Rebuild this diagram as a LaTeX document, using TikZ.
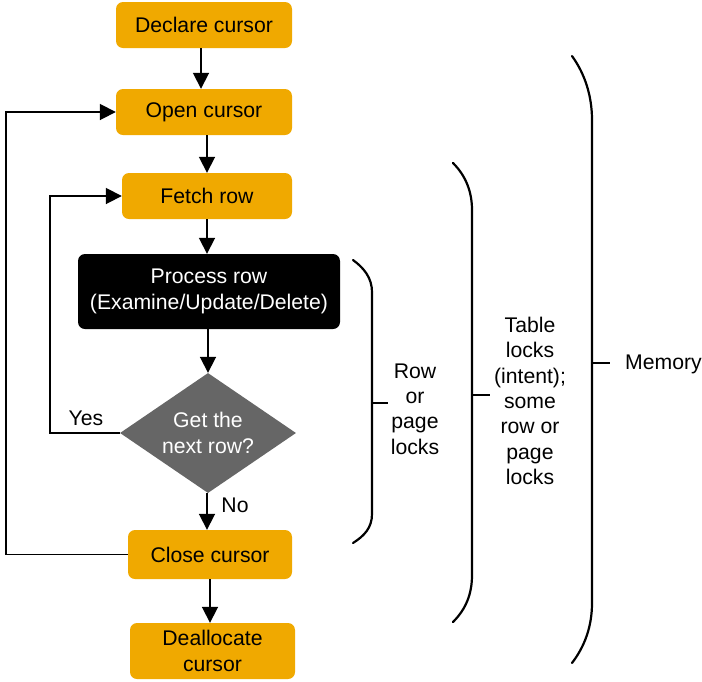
\documentclass[tikz,border=0pt]{standalone}
\usepackage{fontspec}
\setmainfont{Liberation Sans}
\usetikzlibrary{shapes.geometric,arrows.meta}
\definecolor{cOrange}{RGB}{240,169,0}
\definecolor{cGray}{RGB}{102,102,102}
\tikzset{
  txt/.style={font=\fontsize{21.2}{25.3}\selectfont, align=center},
  obox/.style={txt, fill=cOrange, rounded corners=7pt, inner sep=0pt},
  bbox/.style={txt, fill=black, text=white, rounded corners=7pt, inner sep=0pt},
  dbox/.style={txt, diamond, fill=cGray, text=white, inner sep=0pt, aspect=1.467},
  arr/.style={line width=1.8pt, -{Triangle[length=16pt,width=16pt]}},
  ln/.style={line width=1.8pt},
  brace/.style={line width=2.2pt, line cap=round},
  lbl/.style={txt}
}
\begin{document}
\begin{tikzpicture}[x=1pt,y=1pt]
\useasboundingbox (0,0) rectangle (702,-681);
\node[obox, minimum width=176pt, minimum height=46pt] (declare) at (204,-25) {Declare cursor};
\node[obox, minimum width=176pt, minimum height=46pt] (open) at (204,-112) {Open cursor};
\node[obox, minimum width=170pt, minimum height=46pt] (fetch) at (207,-196) {Fetch row};
\node[bbox, minimum width=262pt, minimum height=75pt] (process) at (209,-291.5) {Process row\\(Examine/Update/Delete)};
\node[dbox, minimum width=176pt, minimum height=120pt] (dec) at (208,-433) {Get the\\next row?};
\node[obox, minimum width=164pt, minimum height=49pt] (close) at (210,-554.5) {Close cursor};
\node[obox, minimum width=165pt, minimum height=56pt] (dealloc) at (212.5,-651) {Deallocate\\cursor};

\draw[arr] ([xshift=-3pt]declare.south) -- ([xshift=-3pt]open.north);
\draw[arr] ([xshift=3pt]open.south) -- ([xshift=3pt]open.south |- fetch.north);
\draw[arr] (fetch.south) -- (fetch.south |- process.north);
\draw[arr] (process.south -| dec.north) -- (dec.north);
\draw[arr] ([xshift=-1pt]dec.south) -- ([xshift=-1pt]dec.south |- close.north);
\draw[arr] (close.south) -- (close.south |- dealloc.north);

\draw[arr] (close.west) -- ++(-122pt,0) |- (open.west);
\draw[arr] (dec.west) -- ++(-70pt,0) |- (fetch.west);

\node[lbl] (yes) at (86,-418) {Yes};
\node[lbl] (no) at (235,-505) {No};

% Row or page locks brace
\draw[brace] (353,-260) .. controls (364,-268) and (372,-278) .. (372,-292) -- (372,-514) .. controls (372,-528) and (364,-536) .. (353,-543);
\coordinate (rowtick) at (372,-403);
\draw[ln] (rowtick) -- ++(16pt,0);
\node[lbl] (rowtxt) at (415,-409) {Row\\or\\page\\locks};

% Table locks brace
\draw[brace] (453,-163) .. controls (466,-176) and (472,-192) .. (472,-210) -- (472,-575) .. controls (472,-594) and (466,-609) .. (453,-622);
\coordinate (tabtick) at (472,-395);
\draw[ln] (tabtick) -- ++(18pt,0);
\node[lbl] (tabtxt) at (530,-401) {Table\\locks\\(intent);\\some\\row or\\page\\locks};

% Memory brace
\draw[brace] (572,-56) .. controls (585,-74) and (592,-96) .. (592,-120) -- (592,-603) .. controls (592,-626) and (585,-646) .. (572,-663);
\coordinate (memtick) at (592,-363);
\draw[ln] (memtick) -- ++(18pt,0);
\node[lbl, anchor=west, inner sep=0pt] (memtxt) at (625,-364) {Memory};
\end{tikzpicture}
\end{document}
